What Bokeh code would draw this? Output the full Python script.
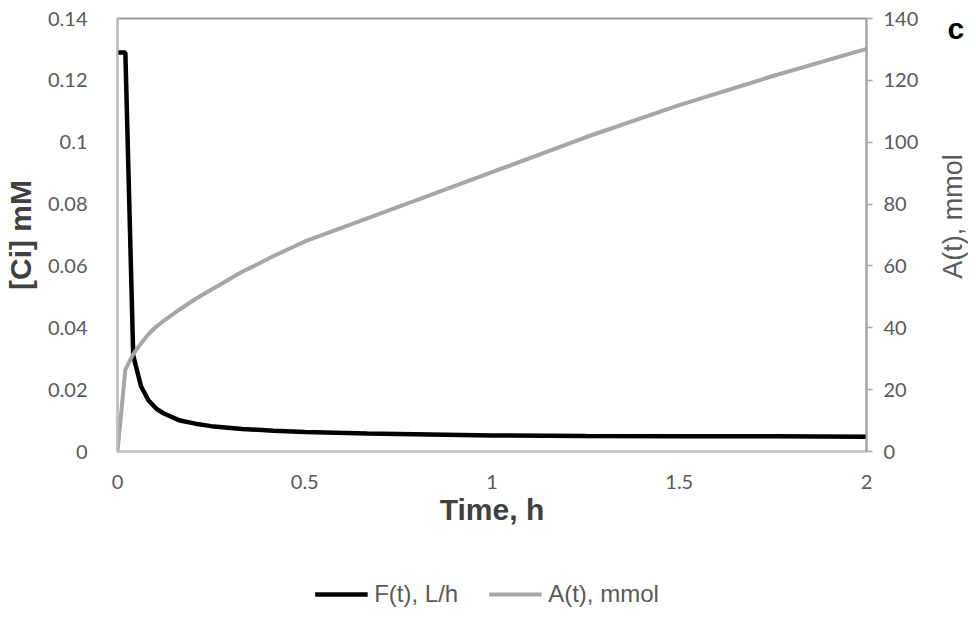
import math
from bokeh.plotting import figure
from bokeh.layouts import column
from bokeh.models import (Range1d, LinearAxis, Legend, LegendItem, Label,
                          FixedTicker, CustomJSTickFormatter)
from bokeh.embed import file_html
from bokeh.resources import INLINE

# ---- data ----
time_h = [0, 0.021, 0.042, 0.063, 0.083, 0.104, 0.125, 0.167, 0.208, 0.25,
          0.333, 0.417, 0.5, 0.667, 0.833, 1.0, 1.25, 1.5, 1.75, 2.0]
F_t = [0.129, 0.129, 0.031, 0.021, 0.0165, 0.0138, 0.0122, 0.0100, 0.0090, 0.0082,
       0.0073, 0.0067, 0.0063, 0.0058, 0.0055, 0.0052, 0.0050, 0.0049, 0.0049, 0.0048]
A_t = [0, 26.5, 31.5, 35.0, 38.0, 40.4, 42.4, 46.0, 49.3, 52.3,
       58.1, 63.2, 67.9, 75.4, 82.8, 90.3, 101.6, 112.0, 121.4, 130.2]

x_ticks = [0, 0.5, 1, 1.5, 2]
left_ticks = [0, 0.02, 0.04, 0.06, 0.08, 0.1, 0.12, 0.14]
right_ticks = [0, 20, 40, 60, 80, 100, 120, 140]

series_names = ["F(t), L/h", "A(t), mmol"]
series_colors = ["black", "#a6a6a6"]
series_widths = [4.5, 4]
right_title = "A(t), mmol"
panel_letter = "c"

TICK_FONT = "Lato"
TITLE_FONT = "Liberation Sans"
TICK_COLOR = "#595959"

fmt = CustomJSTickFormatter(code="return parseFloat(tick.toFixed(4)).toString();")

p = figure(frame_width=749, frame_height=433,
           x_range=Range1d(0, 2), y_range=Range1d(0, 0.14),
           output_backend="svg", toolbar_location=None,
           min_border_left=109, min_border_right=0,
           min_border_top=18, min_border_bottom=129)
p.extra_y_ranges = {"a": Range1d(0, 140)}
p.grid.visible = False
p.outline_line_color = "#9a9a9a"
p.outline_line_width = 2
p.background_fill_color = "white"
p.border_fill_color = "white"

p.line(time_h, F_t, line_width=series_widths[0], color=series_colors[0])
p.line(time_h, A_t, y_range_name="a", line_width=series_widths[1], color=series_colors[1])

# bottom axis
xa = p.xaxis[0]
xa.ticker = FixedTicker(ticks=x_ticks)
xa.formatter = fmt
xa.axis_line_color = "#c8c8c8"
xa.axis_line_width = 2
xa.major_tick_line_color = None
xa.minor_tick_line_color = None
xa.major_label_standoff = 17
xa.major_label_text_font = TICK_FONT
xa.major_label_text_font_size = "20px"
xa.major_label_text_color = TICK_COLOR
xa.axis_label = "Time, h"
xa.axis_label_text_font = TITLE_FONT
xa.axis_label_text_font_style = "bold"
xa.axis_label_text_font_size = "30px"
xa.axis_label_text_color = "#404040"
xa.axis_label_standoff = 1

# left axis
ya = p.yaxis[0]
ya.ticker = FixedTicker(ticks=left_ticks)
ya.formatter = fmt
ya.axis_line_color = "#bfbfbf"
ya.axis_line_width = 2
ya.major_tick_line_color = None
ya.minor_tick_line_color = None
ya.major_label_standoff = 24
ya.major_label_text_font = TICK_FONT
ya.major_label_text_font_size = "20px"
ya.major_label_text_color = TICK_COLOR
ya.axis_label = "[Ci] mM"
ya.axis_label_text_font = TITLE_FONT
ya.axis_label_text_font_style = "bold"
ya.axis_label_text_font_size = "30px"
ya.axis_label_text_color = "#404040"
ya.axis_label_standoff = 8

# right axis
ra = LinearAxis(y_range_name="a")
ra.ticker = FixedTicker(ticks=right_ticks)
ra.formatter = fmt
ra.axis_line_color = "#a6a6a6"
ra.axis_line_width = 2
ra.major_tick_line_color = "#a6a6a6"
ra.major_tick_line_width = 1.5
ra.major_tick_out = 6
ra.major_tick_in = 0
ra.minor_tick_line_color = None
ra.major_label_standoff = 11
ra.major_label_text_font = TICK_FONT
ra.major_label_text_font_size = "20px"
ra.major_label_text_color = TICK_COLOR
p.add_layout(ra, "right")

# right-side title and panel letter, as labels in the right panel
p.add_layout(Label(x=31, y=235, x_units="screen", y_units="screen",
                   text=right_title, angle=math.pi / 2,
                   text_align="center", text_baseline="middle",
                   text_font=TITLE_FONT, text_font_size="27px",
                   text_color=TICK_COLOR), "right")
p.add_layout(Label(x=-4, y=423, x_units="screen", y_units="screen",
                   text=panel_letter,
                   text_font=TITLE_FONT, text_font_style="bold",
                   text_font_size="30px", text_color="black",
                   text_baseline="alphabetic"), "right")

# legend strip below the chart (series drawn out of view, only legend shows)
lg = figure(width=958, height=28, output_backend="svg", toolbar_location=None,
            x_range=Range1d(0, 2), y_range=Range1d(1000, 1001),
            x_axis_type=None, y_axis_type=None,
            min_border_left=0, min_border_right=0,
            min_border_top=0, min_border_bottom=0)
lg.outline_line_color = None
lg.grid.visible = False
items = []
for name, ys, col, w in zip(series_names, [F_t, A_t], series_colors, series_widths):
    r = lg.line(time_h, ys, line_width=w, color=col)
    items.append(LegendItem(label=name, renderers=[r]))
legend = Legend(items=items, orientation="horizontal", location="center",
                label_text_font=TITLE_FONT, label_text_font_size="24px",
                label_text_color=TICK_COLOR, glyph_width=53, glyph_height=20,
                label_standoff=7, spacing=30, padding=0, margin=0,
                border_line_color=None, background_fill_alpha=0)
lg.add_layout(legend, "center")

layout = column(p, lg, spacing=0)

open("out.html", "w").write(file_html(layout, INLINE))
